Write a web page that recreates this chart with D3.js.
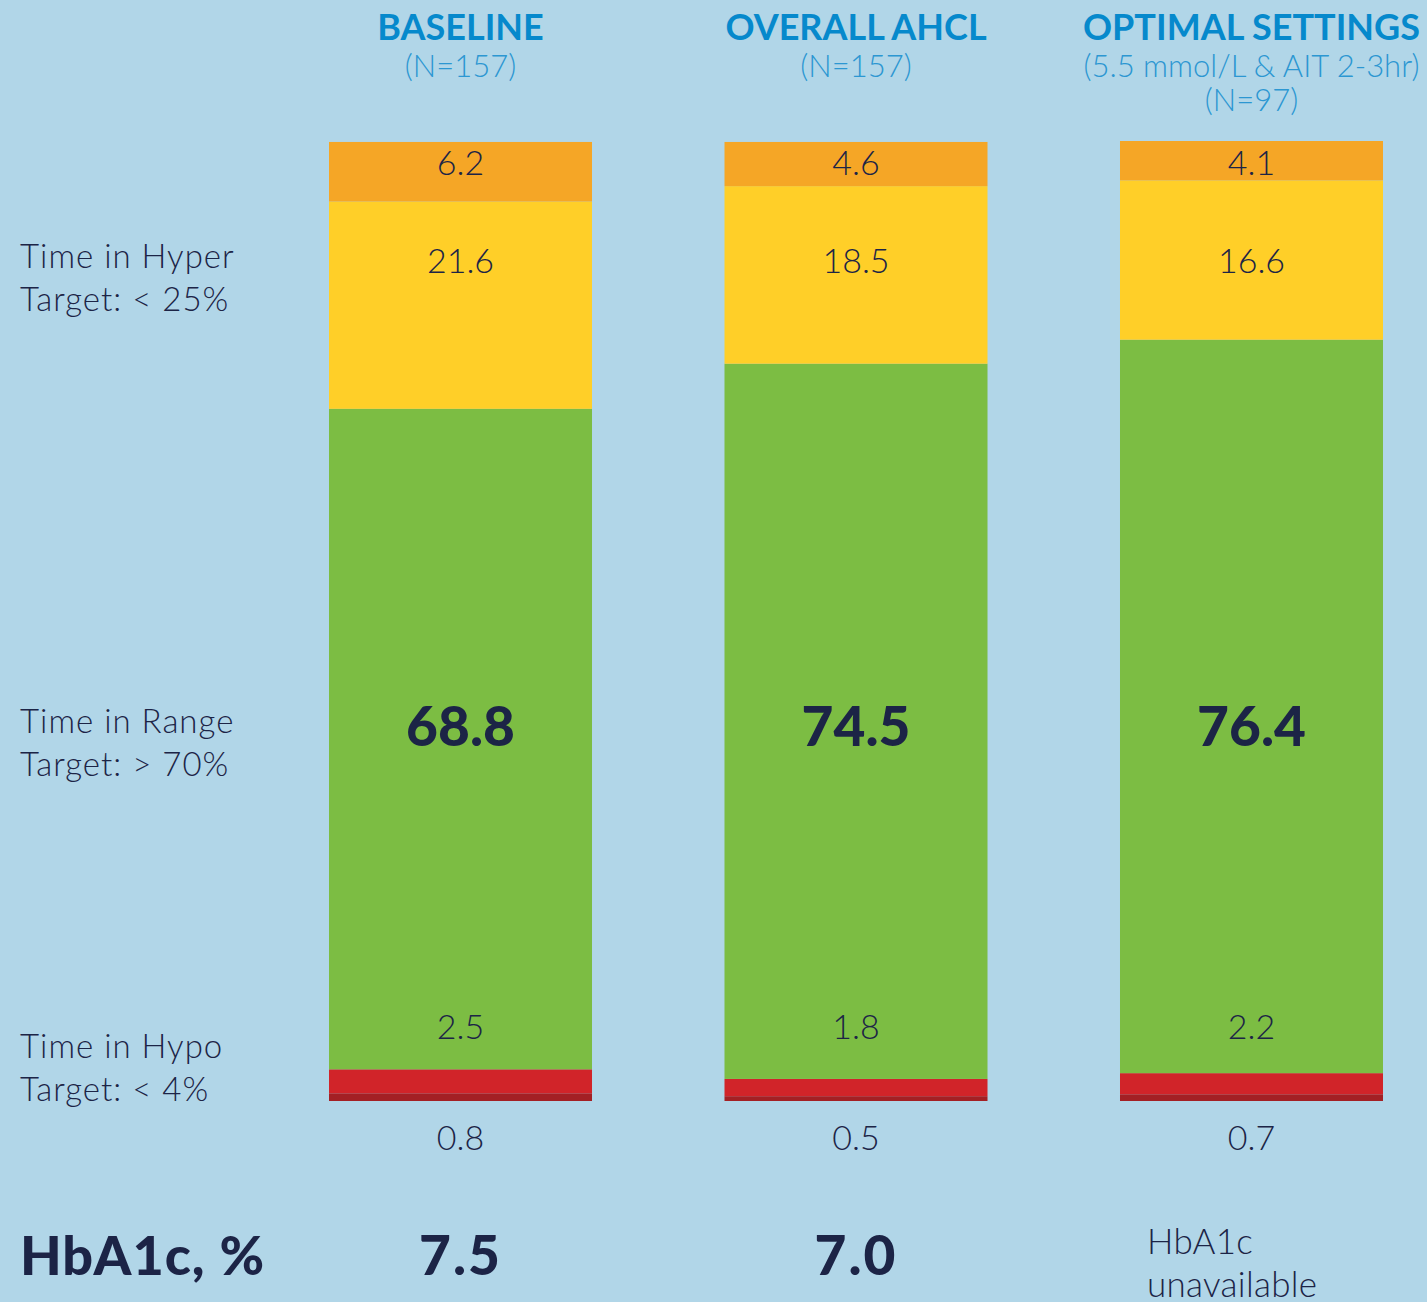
<!DOCTYPE html>
<html>
<head>
<meta charset="utf-8">
<script src="https://cdn.jsdelivr.net/npm/d3@7"></script>
<style>
    body { margin: 0; background: #b1d6e8; }
    svg { display: block; font-family: Lato, 'Open Sans', sans-serif; }
</style>
</head>
<body>
<svg id="chart" width="1427" height="1302"></svg>
<script>
// data
const groups = ['BASELINE', 'OVERALL AHCL', 'OPTIMAL SETTINGS'];
const subtitles = [['(N=157)'], ['(N=157)'], ['(5.5 mmol/L & AIT 2-3hr)', '(N=97)']];
const segmentKeys = ['veryLow', 'low', 'inRange', 'high', 'veryHigh'];
const veryLow = [0.8, 0.5, 0.7];
const low = [2.5, 1.8, 2.2];
const inRange = [68.8, 74.5, 76.4];
const high = [21.6, 18.5, 16.6];
const veryHigh = [6.2, 4.6, 4.1];
const hba1c = ['7.5', '7.0', null];
const rowLabels = [
    ['Time in Hyper', 'Target: < 25%'],
    ['Time in Range', 'Target: > 70%'],
    ['Time in Hypo', 'Target: < 4%']
];

const colors = {
    veryLow: '#a32024',
    low: '#d12429',
    inRange: '#7cbd43',
    high: '#ffcf28',
    veryHigh: '#f5a626'
};
const navy = '#1c2446';

const svg = d3.select('#chart');

const rows = groups.map((g, i) => ({
    group: g,
    veryLow: veryLow[i],
    low: low[i],
    inRange: inRange[i],
    high: high[i],
    veryHigh: veryHigh[i]
}));

const x = d3.scaleBand()
    .domain(groups)
    .range([329, 1383])
    .paddingInner(0.335)
    .paddingOuter(0);

const y = d3.scaleLinear()
    .domain([0, 100])
    .range([1101, 141]);

const stack = d3.stack().keys(segmentKeys);
const series = stack(rows);

const centre = (g) => x(g) + x.bandwidth() / 2;

//--------------------------------------------------BARS
svg.append('g')
    .attr('class', 'bars')
    .selectAll('g')
    .data(series)
    .enter().append('g')
    .attr('fill', d => colors[d.key])
    .selectAll('rect')
    .data(d => d)
    .enter().append('rect')
    .attr('x', d => x(d.data.group))
    .attr('width', x.bandwidth())
    .attr('y', d => y(d[1]))
    .attr('height', d => y(d[0]) - y(d[1]));

//--------------------------------------------------HEADERS
const header = svg.append('g').attr('class', 'headers');
groups.forEach((g, i) => {
    header.append('text')
        .text(g)
        .attr('x', centre(g))
        .attr('y', 40)
        .style('text-anchor', 'middle')
        .style('font-size', 36)
        .style('font-weight', 700)
        .style('fill', '#0689cc');

    subtitles[i].forEach((s, j) => {
        header.append('text')
            .text(s)
            .attr('x', centre(g))
            .attr('y', 77 + j * 34)
            .style('text-anchor', 'middle')
            .style('font-size', 31)
            .style('font-weight', 300)
            .style('fill', '#2c97d2');
    });
});

//--------------------------------------------------VALUE LABELS
const labelRows = [
    {values: veryHigh, y: 175, size: 34, weight: 300},
    {values: high, y: 273, size: 34, weight: 300},
    {values: inRange, y: 746, size: 55, weight: 900},
    {values: low, y: 1039, size: 34, weight: 300},
    {values: veryLow, y: 1150, size: 34, weight: 300}
];

const labels = svg.append('g').attr('class', 'valueLabels');
labelRows.forEach(row => {
    labels.selectAll(null)
        .data(row.values)
        .enter().append('text')
        .text(d => d.toFixed(1))
        .attr('x', (d, i) => centre(groups[i]))
        .attr('y', row.y)
        .style('text-anchor', 'middle')
        .style('font-size', row.size)
        .style('font-weight', row.weight)
        .style('fill', navy);
});

//--------------------------------------------------ROW LABELS
const rowY = [268, 733, 1058];
const side = svg.append('g').attr('class', 'rowLabels');
rowLabels.forEach((lines, i) => {
    lines.forEach((line, j) => {
        side.append('text')
            .text(line)
            .attr('x', 20)
            .attr('y', rowY[i] + j * 43)
            .style('font-size', 33)
            .style('font-weight', 300)
            .style('letter-spacing', '1px')
            .style('fill', navy);
    });
});

//--------------------------------------------------HBA1C
const foot = svg.append('g').attr('class', 'hba1c');
foot.append('text')
    .text('HbA1c, %')
    .attr('x', 20)
    .attr('y', 1275)
    .style('font-size', 54)
    .style('font-weight', 900)
    .style('letter-spacing', '1px')
    .style('fill', navy);

hba1c.forEach((v, i) => {
    if (v !== null) {
        foot.append('text')
            .text(v)
            .attr('x', centre(groups[i]))
            .attr('y', 1275)
            .style('text-anchor', 'middle')
            .style('font-size', 55)
            .style('font-weight', 900)
            .style('letter-spacing', '2px')
            .style('fill', navy);
    } else {
        ['HbA1c', 'unavailable'].forEach((line, j) => {
            foot.append('text')
                .text(line)
                .attr('x', 1147)
                .attr('y', 1254 + j * 43)
                .style('font-size', 35)
                .style('font-weight', 300)
                .style('letter-spacing', '0.3px')
                .style('fill', navy);
        });
    }
});
</script>
</body>
</html>
